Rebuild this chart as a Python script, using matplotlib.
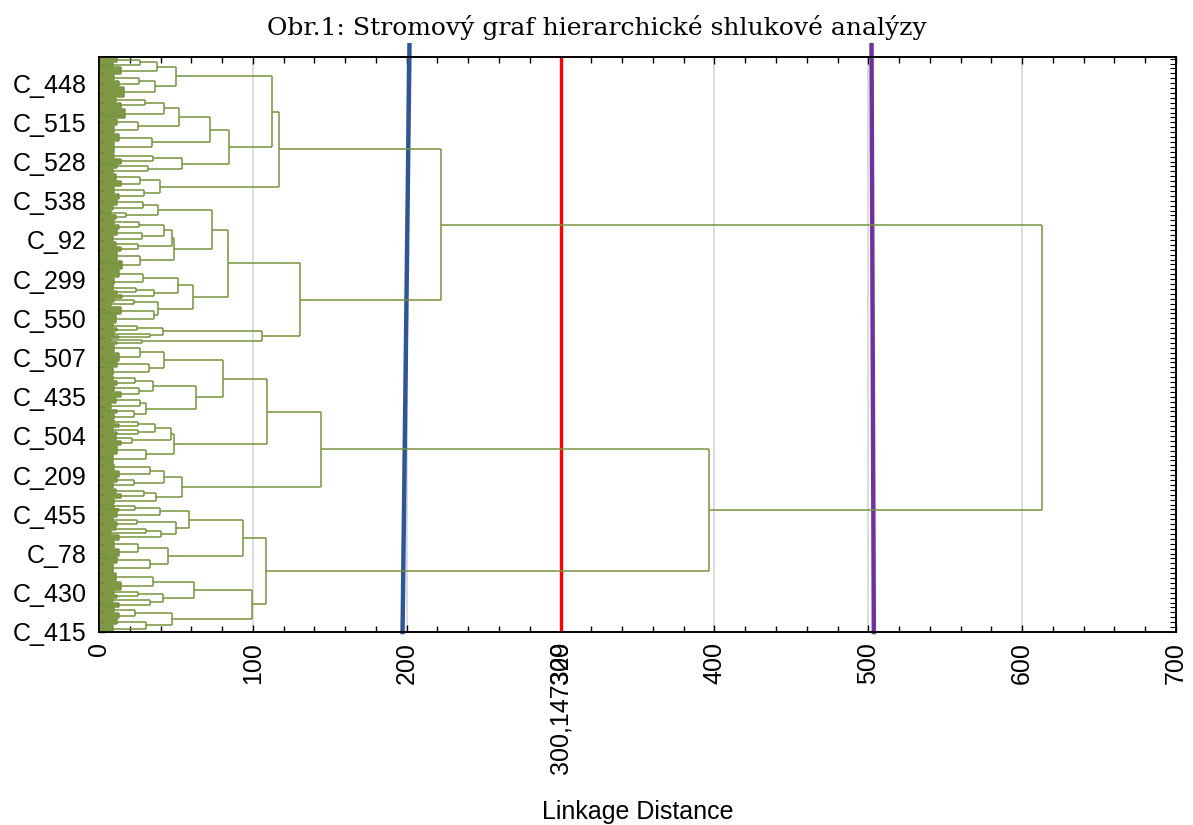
import matplotlib
matplotlib.use('Agg')
import matplotlib.pyplot as plt
from matplotlib.collections import LineCollection
from matplotlib.ticker import MultipleLocator, FixedLocator

# 树形结构: 节点 [合并距离, 上子树, 下子树]; 末端 (对象数, 合并距离)
branch_a1 = [117.2,
    [112.2,
        [49.8, [37.5, [26.6, (5, 12), (5, 9)], (8, 14)],
               [36.6, [26.0, (6, 10), (6, 13)], (11, 16)]],
        [84.5,
            [72.1, [52.0, [42.5, [30.0, (5, 11), (6, 14)], (11, 17)],
                          [25.6, (7, 12), (8, 10)]],
                   [34.2, (8, 13), (12, 10)]],
            [53.7, [34.9, (5, 10), (6, 14)], [32.0, (5, 12), (5, 9)]]]],
    [39.6, [26.6, (7, 11), (6, 14)], [29.5, (7, 10), (6, 13)]]]

branch_a2 = [130.6,
    [83.6,
        [73.2,
            [38.6, [28.4, (6, 12), (5, 9)], [17.5, (5, 8), (5, 11)]],
            [48.7,
                [47.2, [42.5, [26.0, (5, 10), (5, 13)], [27.7, (6, 12), (6, 9)]],
                       [25.6, (5, 11), (5, 14)]],
                [26.6, (9, 12), (10, 15)]]],
        [61.2,
            [51.1, [28.8, (8, 13), (8, 10)], [36.0, [24.0, (5, 9), (4, 12)], (4, 15)]],
            [38.6, [23.0, (4, 10), (4, 8)], [36.0, (9, 14), (9, 11)]]]],
    [106.1,
        [41.4, [25.0, (4, 9), (4, 12)], [33.0, (4, 10), (3, 13)]],
        [27.7, (3, 8), (3, 12)]]]

branch_b1 = [144.3,
    [109.4,
        [80.4,
            [42.2, [26.6, (8, 10), (9, 13)], [32.5, (7, 12), (8, 9)]],
            [63.0,
                [35.3, [23.4, (5, 9), (5, 12)], [26.2, (6, 10), (6, 14)]],
                [30.5, [26.6, (6, 11), (6, 8)], [23.0, (5, 12), (6, 10)]]]],
        [48.7,
            [46.8, [36.4, [25.6, (4, 10), (4, 13)], [25.6, (4, 9), (4, 12)]],
                   [21.2, (5, 11), (5, 14)]],
            [30.3, (9, 12), (10, 9)]]],
    [54.2,
        [42.2, [33.1, (7, 10), (7, 13)], [23.0, (5, 12), (6, 9)]],
        [37.0, [29.0, (5, 11), (5, 14)], (6, 10)]]]

branch_b2 = [108.3,
    [93.8,
        [58.7,
            [39.6, [23.4, (4, 10), (4, 13)], (6, 12)],
            [49.8, [25.0, (4, 9), (5, 12)], [40.0, [30.5, (4, 11), (4, 8)], (6, 13)]]],
        [44.6, [25.6, (8, 10), (8, 13)], [33.1, (8, 12), (9, 9)]]],
    [99.2,
        [61.7, [35.3, (9, 11), (9, 14)],
               [41.4, [25.6, (4, 10), (4, 12)], [33.0, (4, 9), (5, 13)]]],
        [47.2, [23.4, (6, 10), (6, 13)], [30.5, (6, 12), (8, 9)]]]]

height_a = 222.3
height_b = 396.5
height_root = 612.9

# 每隔40个对象标注一次 (自下而上)
case_labels = ['C_415', 'C_430', 'C_78', 'C_455', 'C_209', 'C_504', 'C_435', 'C_507',
               'C_550', 'C_299', 'C_92', 'C_538', 'C_528', 'C_515', 'C_448']

# 切割线 (距离)
cut_red = 300.147329
cut_blue = [201.8, 197.3]     # 上端, 下端
cut_purple = [502.1, 503.6]   # 上端, 下端

x_ticks = [0, 100, 200, 300, cut_red, 400, 500, 600, 700]
x_tick_labels = ['0', '100', '200', '300', '300,147329', '400', '500', '600', '700']

tree = [height_root, [height_a, branch_a1, branch_a2], [height_b, branch_b1, branch_b2]]


def count_leaves(node):
    if isinstance(node, tuple):
        return node[0]
    return count_leaves(node[1]) + count_leaves(node[2])


n_total = count_leaves(tree)
segs = []
pos = [n_total - 1]


def build(node):
    """递归生成树状图线段, 返回(中心位置, 高度)"""
    if isinstance(node, tuple):
        n, h = node
        ys = [pos[0] - k for k in range(n)]
        pos[0] -= n
        for y in ys:
            segs.append([(0, y), (h, y)])
        segs.append([(h, ys[0]), (h, ys[-1])])
        return (ys[0] + ys[-1]) / 2, h
    H, top, bottom = node
    y1, h1 = build(top)
    y2, h2 = build(bottom)
    segs.append([(h1, y1), (H, y1)])
    segs.append([(h2, y2), (H, y2)])
    segs.append([(H, y1), (H, y2)])
    return (y1 + y2) / 2, H


build(tree)

plt.rcParams['font.family'] = ['Liberation Sans', 'DejaVu Sans']

fig = plt.figure(figsize=(11.93, 8.25), dpi=100)
ax = fig.add_axes([99 / 1193, 1 - 632 / 825, 1077 / 1193, 575 / 825])

y_top = n_total - 1 + 0.7
ax.set_xlim(0, 700)
ax.set_ylim(0, y_top)

ax.add_collection(LineCollection(segs, colors='#77933C', linewidths=1.1, zorder=3))

# 切割线
y_over = y_top + 12
ax.plot([cut_red, cut_red], [0, y_top], color='#FF0000', lw=2.4, zorder=2)
ax.plot(cut_blue, [y_over, 0], color='#2F5597', lw=3.2, zorder=2, clip_on=False)
ax.plot(cut_purple, [y_over, 0], color='#7030A0', lw=3.2, zorder=2, clip_on=False)

# 坐标轴
ax.xaxis.set_major_locator(FixedLocator(x_ticks))
ax.set_xticklabels(x_tick_labels, rotation=90, fontsize=18)
ax.xaxis.set_minor_locator(MultipleLocator(20))
ax.grid(axis='x', which='major', color='#D9D9D9', lw=1.3, zorder=1)
ax.set_axisbelow(True)

ax.set_yticks(range(0, 40 * len(case_labels), 40))
ax.set_yticklabels(case_labels, fontsize=18)
ax.yaxis.set_minor_locator(MultipleLocator(10))

ax.tick_params(axis='x', which='both', direction='in', top=True, bottom=True, pad=7)
ax.tick_params(axis='x', which='major', length=5, width=1)
ax.tick_params(axis='x', which='minor', length=4, width=1)
ax.tick_params(axis='y', which='both', direction='in', left=True, right=False,
               length=4, width=1, pad=9)

ax2 = ax.twinx()
ax2.set_ylim(0, y_top)
ax2.yaxis.set_major_locator(MultipleLocator(5))
ax2.tick_params(axis='y', direction='in', length=4, width=0.8, labelright=False)

for a in (ax, ax2):
    for s in a.spines.values():
        s.set_linewidth(1.2)

ax.set_xlabel('Linkage Distance', fontsize=18)
ax.xaxis.set_label_coords(0.5, -0.292)

fig.text(0.5, 1 - 28 / 825, 'Obr.1: Stromový graf hierarchické shlukové analýzy',
         ha='center', va='center', fontsize=18, family='DejaVu Serif')

fig.savefig('out.png', dpi=100)
